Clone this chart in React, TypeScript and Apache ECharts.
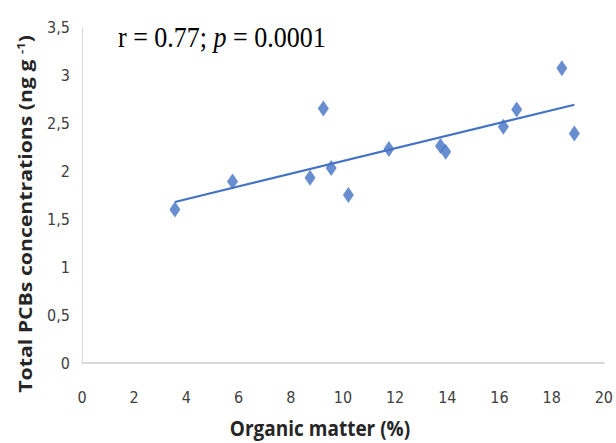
import React, { useEffect, useRef } from "react";
import * as echarts from "echarts";

const organicMatter = [3.56, 5.77, 8.74, 9.25, 9.55, 10.21, 11.76, 13.74, 13.94, 16.15, 16.66, 18.39, 18.87];
const pcbConcentration = [1.6, 1.89, 1.93, 2.65, 2.03, 1.75, 2.23, 2.26, 2.2, 2.46, 2.64, 3.07, 2.39];
const xTicks = [0, 2, 4, 6, 8, 10, 12, 14, 16, 18, 20];
const yTicks = [0, 0.5, 1, 1.5, 2, 2.5, 3, 3.5];
const annotation = { r: "0.77", p: "0.0001" };
const xTitle = "Organic matter (%)";
const yTitle = "Total PCBs concentrations (ng g ";

const BLUE = "#4472c4";

function regression(xs: number[], ys: number[]) {
  const n = xs.length;
  const mx = xs.reduce((a, b) => a + b, 0) / n;
  const my = ys.reduce((a, b) => a + b, 0) / n;
  let sxy = 0, sxx = 0;
  for (let i = 0; i < n; i++) {
    sxy += (xs[i] - mx) * (ys[i] - my);
    sxx += (xs[i] - mx) * (xs[i] - mx);
  }
  const slope = sxy / sxx;
  return { slope, intercept: my - slope * mx };
}

export default function App() {
  const ref = useRef<HTMLDivElement>(null);
  useEffect(() => {
    const chart = echarts.init(ref.current!, null, { renderer: "svg" });
    const { slope, intercept } = regression(organicMatter, pcbConcentration);
    const xmin = Math.min(...organicMatter);
    const xmax = Math.max(...organicMatter);
    const trend = [
      [xmin, intercept + slope * xmin],
      [xmax, intercept + slope * xmax],
    ];
    const labelFont = "'Liberation Sans Narrow', 'DejaVu Sans Condensed', sans-serif";
    chart.setOption({
      animation: false,
      grid: { left: 82, right: 12, top: 27, bottom: 80, containLabel: false },
      xAxis: {
        type: "value",
        min: xTicks[0],
        max: xTicks[xTicks.length - 1],
        interval: 2,
        axisLine: { show: true, lineStyle: { color: "#d9d9d9", width: 2 } },
        axisTick: { show: false },
        splitLine: { show: false },
        axisLabel: { color: "#404040", fontSize: 16, fontFamily: labelFont, margin: 26 },
      },
      yAxis: {
        type: "value",
        min: yTicks[0],
        max: yTicks[yTicks.length - 1],
        interval: 0.5,
        axisLine: { show: true, lineStyle: { color: "#d9d9d9", width: 1 } },
        axisTick: { show: false },
        splitLine: { show: false },
        axisLabel: {
          color: "#404040",
          fontSize: 16,
          fontFamily: labelFont,
          margin: 12,
          formatter: (v: number) => String(v).replace(".", ","),
        },
      },
      graphic: [
        {
          type: "text",
          x: 320,
          y: 428,
          scaleY: 1.08,
          style: {
            text: xTitle,
            font: "bold 19px 'Open Sans', sans-serif",
            fill: "#262626",
            align: "center",
            verticalAlign: "middle",
          },
        },
        {
          type: "text",
          x: 25,
          y: 214,
          rotation: Math.PI / 2,
          scaleX: 1.18,
          style: {
            text: "{n|" + yTitle + "}{s|-1}{n|)}",
            rich: {
              n: { font: "bold 18px 'Open Sans', sans-serif", fill: "#262626" },
              s: { font: "bold 11px 'Open Sans', sans-serif", fill: "#262626", padding: [0, 0, 9, 0] },
            },
            align: "center",
            verticalAlign: "middle",
          },
        },
        {
          type: "text",
          x: 118,
          y: 38,
          scaleY: 1.1,
          style: {
            text: "{n|r = " + annotation.r + "; }{i|p}{n| = " + annotation.p + "}",
            rich: {
              n: { font: "26px 'Liberation Serif', serif", fill: "#000" },
              i: { font: "italic 26px 'Liberation Serif', serif", fill: "#000" },
            },
            verticalAlign: "middle",
          },
        },
      ],
      series: [
        {
          type: "line",
          data: trend,
          symbol: "none",
          lineStyle: { color: BLUE, width: 2.2 },
          z: 2,
        },
        {
          type: "scatter",
          data: organicMatter.map((x, i) => [x, pcbConcentration[i]]),
          symbol: "diamond",
          symbolSize: [11, 16],
          itemStyle: { color: BLUE },
          z: 3,
        },
      ],
    });
    return () => chart.dispose();
  }, []);
  return (
    <div
      ref={ref}
      style={{ position: "fixed", left: 0, top: 0, width: 616, height: 443, background: "#fff" }}
    />
  );
}
